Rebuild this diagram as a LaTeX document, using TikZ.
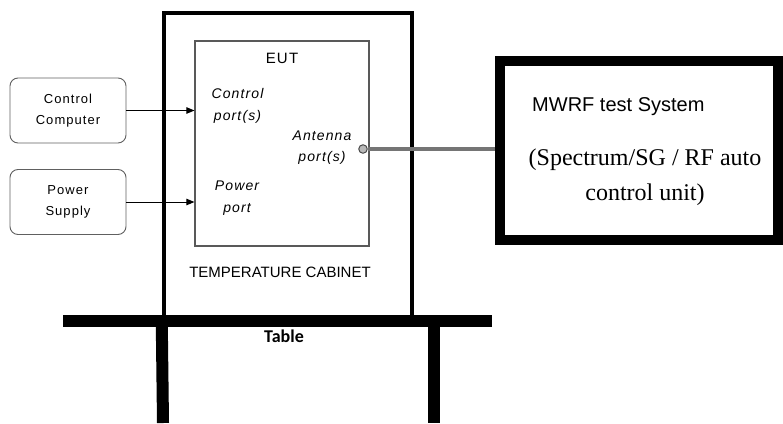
\documentclass[tikz,border=0pt]{standalone}
\usepackage{fontspec}
\setmainfont{Liberation Sans}
\newfontfamily\spacedfont[LetterSpace=8]{Liberation Sans}
\newfontfamily\timesfont{Liberation Serif}
\newfontfamily\calibrifont{Carlito}
\usepackage{tikz}
\usetikzlibrary{arrows.meta}

\begin{document}
\begin{tikzpicture}[x=1pt, y=-1pt,
  source/.style={draw=gray!75!black, line width=0.9pt, rounded corners=8pt, minimum width=116pt, minimum height=65pt, align=center, font=\fontsize{13}{21}\spacedfont},
  portlabel/.style={align=center, inner sep=0pt, font=\fontsize{14}{21.5}\spacedfont\itshape},
  feed/.style={-{Triangle[length=8pt,width=6.5pt]}, line width=1pt},
  rfline/.style={draw=gray!65!black!80, line width=3.5pt},
  leg/.style={line width=12pt},
]
\useasboundingbox (0,0) rectangle (783,423);
% Temperature cabinet with the EUT
\node[draw, line width=4pt, minimum width=248.5pt, minimum height=308pt] (cabinet) at (288,167) {};
\node[draw=gray!70!black, line width=1.2pt, minimum width=174pt, minimum height=205pt] (eut) at (282,143.5) {};
\node[inner sep=0pt, font=\fontsize{15}{18}\spacedfont] (eutlabel) at (282,58) {EUT};
\node[portlabel] (ctrlport) at (237.5,106) {Control\\port(s)};
\node[portlabel] (antlabel) at (322,147.5) {Antenna\\port(s)};
\node[portlabel] (powerport) at (237,198) {Power\\port};
\node[inner sep=0pt, font=\fontsize{15}{18}\selectfont] (cablabel) at (280,272) {TEMPERATURE CABINET};
% Table
\node[fill, inner sep=0pt, minimum width=429pt, minimum height=12pt] (table) at (277.5,321) {};
\draw[leg] (table.center -| cabinet.west) -- (163,423);
\draw[leg] (434,321) -- (434,423);
\node[inner sep=0pt, font=\fontsize{18}{20}\calibrifont\bfseries] (tablelabel) at (284,336) {Table};
% Sources on the left
\node[source] (ctrl) at (68,110.5) {Control\\Computer};
\node[source] (power) at (68,202) {Power\\Supply};
\draw[feed] (ctrl.east) -- (ctrl.east -| eut.west);
\draw[feed] (power.east) -- (power.east -| eut.west);
% Test system
\node[draw, line width=10pt, minimum width=278pt, minimum height=179pt] (mwrf) at (639,150.5) {};
\node[anchor=west, inner sep=0pt, font=\fontsize{20}{24}\selectfont] (mwrftitle) at (532,107) {MWRF test System};
\node[align=center, inner sep=0pt, font=\fontsize{24}{35}\timesfont] (mwrfunit) at (645,177.5) {(Spectrum/SG / RF auto\\control unit)};
\node[circle, draw=gray!60!black, fill=gray!55, line width=1pt, minimum size=8.5pt, inner sep=0pt] (ant) at (363,149) {};
\draw[rfline] (ant.east) -- (ant -| mwrf.west);
\end{tikzpicture}
\end{document}
